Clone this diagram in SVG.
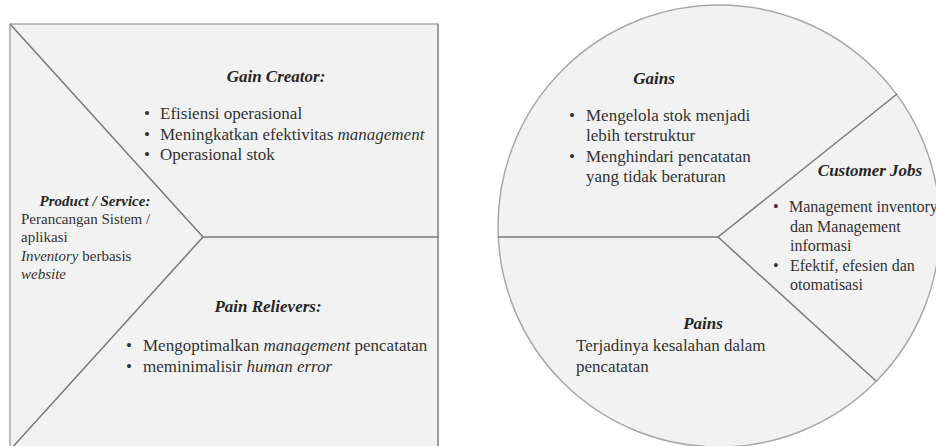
<svg xmlns="http://www.w3.org/2000/svg" width="936" height="446" viewBox="0 0 936 446">
  <style>
    text { font-family: "Liberation Serif", "Times New Roman", serif; fill: #333333; }
    .h { font-weight: bold; font-style: italic; font-size: 17px; text-anchor: middle; fill: #262626; }
    .t { font-size: 17px; }
    .s { font-size: 15px; }
    .c { font-size: 16px; }
    .hs { font-weight: bold; font-style: italic; font-size: 15px; text-anchor: middle; fill: #262626; }
    .panel { fill: #f2f2f2; stroke: #a8a8a8; stroke-width: 1.5; }
    .divider { fill: none; stroke: #7a7a7a; stroke-width: 1.5; }
  </style>

  <rect width="936" height="446" fill="#ffffff"/>

  <!-- Value map (left panel) -->
  <g id="value-map">
    <rect class="panel" x="10" y="24" width="428" height="430"/>
    <line x1="438" y1="24" x2="438" y2="446" stroke="#9c9c9c" stroke-width="2"/>
  </g>

  <!-- Customer profile (right circle) -->
  <g id="customer-profile">
    <circle class="panel" cx="719" cy="226" r="221"/>
  </g>

  <!-- Section dividers -->
  <g id="connectors">
    <polyline class="divider" points="10,24 203,237 10,450"/>
    <line class="divider" x1="203" y1="237" x2="438" y2="237"/>
    <line class="divider" x1="498" y1="237" x2="718" y2="237"/>
    <line class="divider" x1="718" y1="237" x2="897" y2="94"/>
    <line class="divider" x1="718" y1="237" x2="876" y2="381"/>
  </g>

  <g id="gain-creator">
    <text class="h" x="276" y="82">Gain Creator:</text>
    <text class="t" x="144" y="119">•</text>
    <text class="t" x="160" y="119">Efisiensi operasional</text>
    <text class="t" x="144" y="140">•</text>
    <text class="t" x="160" y="140">Meningkatkan efektivitas <tspan font-style="italic">management</tspan></text>
    <text class="t" x="144" y="160">•</text>
    <text class="t" x="160" y="160">Operasional stok</text>
  </g>

  <g id="product-service">
    <text class="hs" x="95" y="206">Product / Service:</text>
    <text class="s" x="21" y="224">Perancangan Sistem /</text>
    <text class="s" x="21" y="242">aplikasi</text>
    <text class="s" x="21" y="261"><tspan font-style="italic">Inventory</tspan> berbasis</text>
    <text class="s" x="21" y="279" font-style="italic">website</text>
  </g>

  <g id="pain-relievers">
    <text class="h" x="268" y="312">Pain Relievers:</text>
    <text class="t" x="126" y="351">•</text>
    <text class="t" x="143" y="351">Mengoptimalkan <tspan font-style="italic">management</tspan> pencatatan</text>
    <text class="t" x="126" y="372">•</text>
    <text class="t" x="143" y="372">meminimalisir <tspan font-style="italic">human error</tspan></text>
  </g>

  <g id="gains">
    <text class="h" x="654" y="84">Gains</text>
    <text class="t" x="569" y="121">•</text>
    <text class="t" x="586" y="121">Mengelola stok menjadi</text>
    <text class="t" x="586" y="141">lebih terstruktur</text>
    <text class="t" x="569" y="162">•</text>
    <text class="t" x="586" y="162">Menghindari pencatatan</text>
    <text class="t" x="586" y="182">yang tidak beraturan</text>
  </g>

  <g id="customer-jobs">
    <text class="h" x="870" y="176" font-size="16">Customer Jobs</text>
    <text class="c" x="773" y="212">•</text>
    <text class="c" x="789" y="212" font-size="15.4">Management inventory</text>
    <text class="c" x="790" y="232">dan Management</text>
    <text class="c" x="790" y="251">informasi</text>
    <text class="c" x="773" y="271">•</text>
    <text class="c" x="790" y="271">Efektif, efesien dan</text>
    <text class="c" x="790" y="290">otomatisasi</text>
  </g>

  <g id="pains">
    <text class="h" x="703" y="329">Pains</text>
    <text class="t" x="576" y="351">Terjadinya kesalahan dalam</text>
    <text class="t" x="576" y="372">pencatatan</text>
  </g>
</svg>
